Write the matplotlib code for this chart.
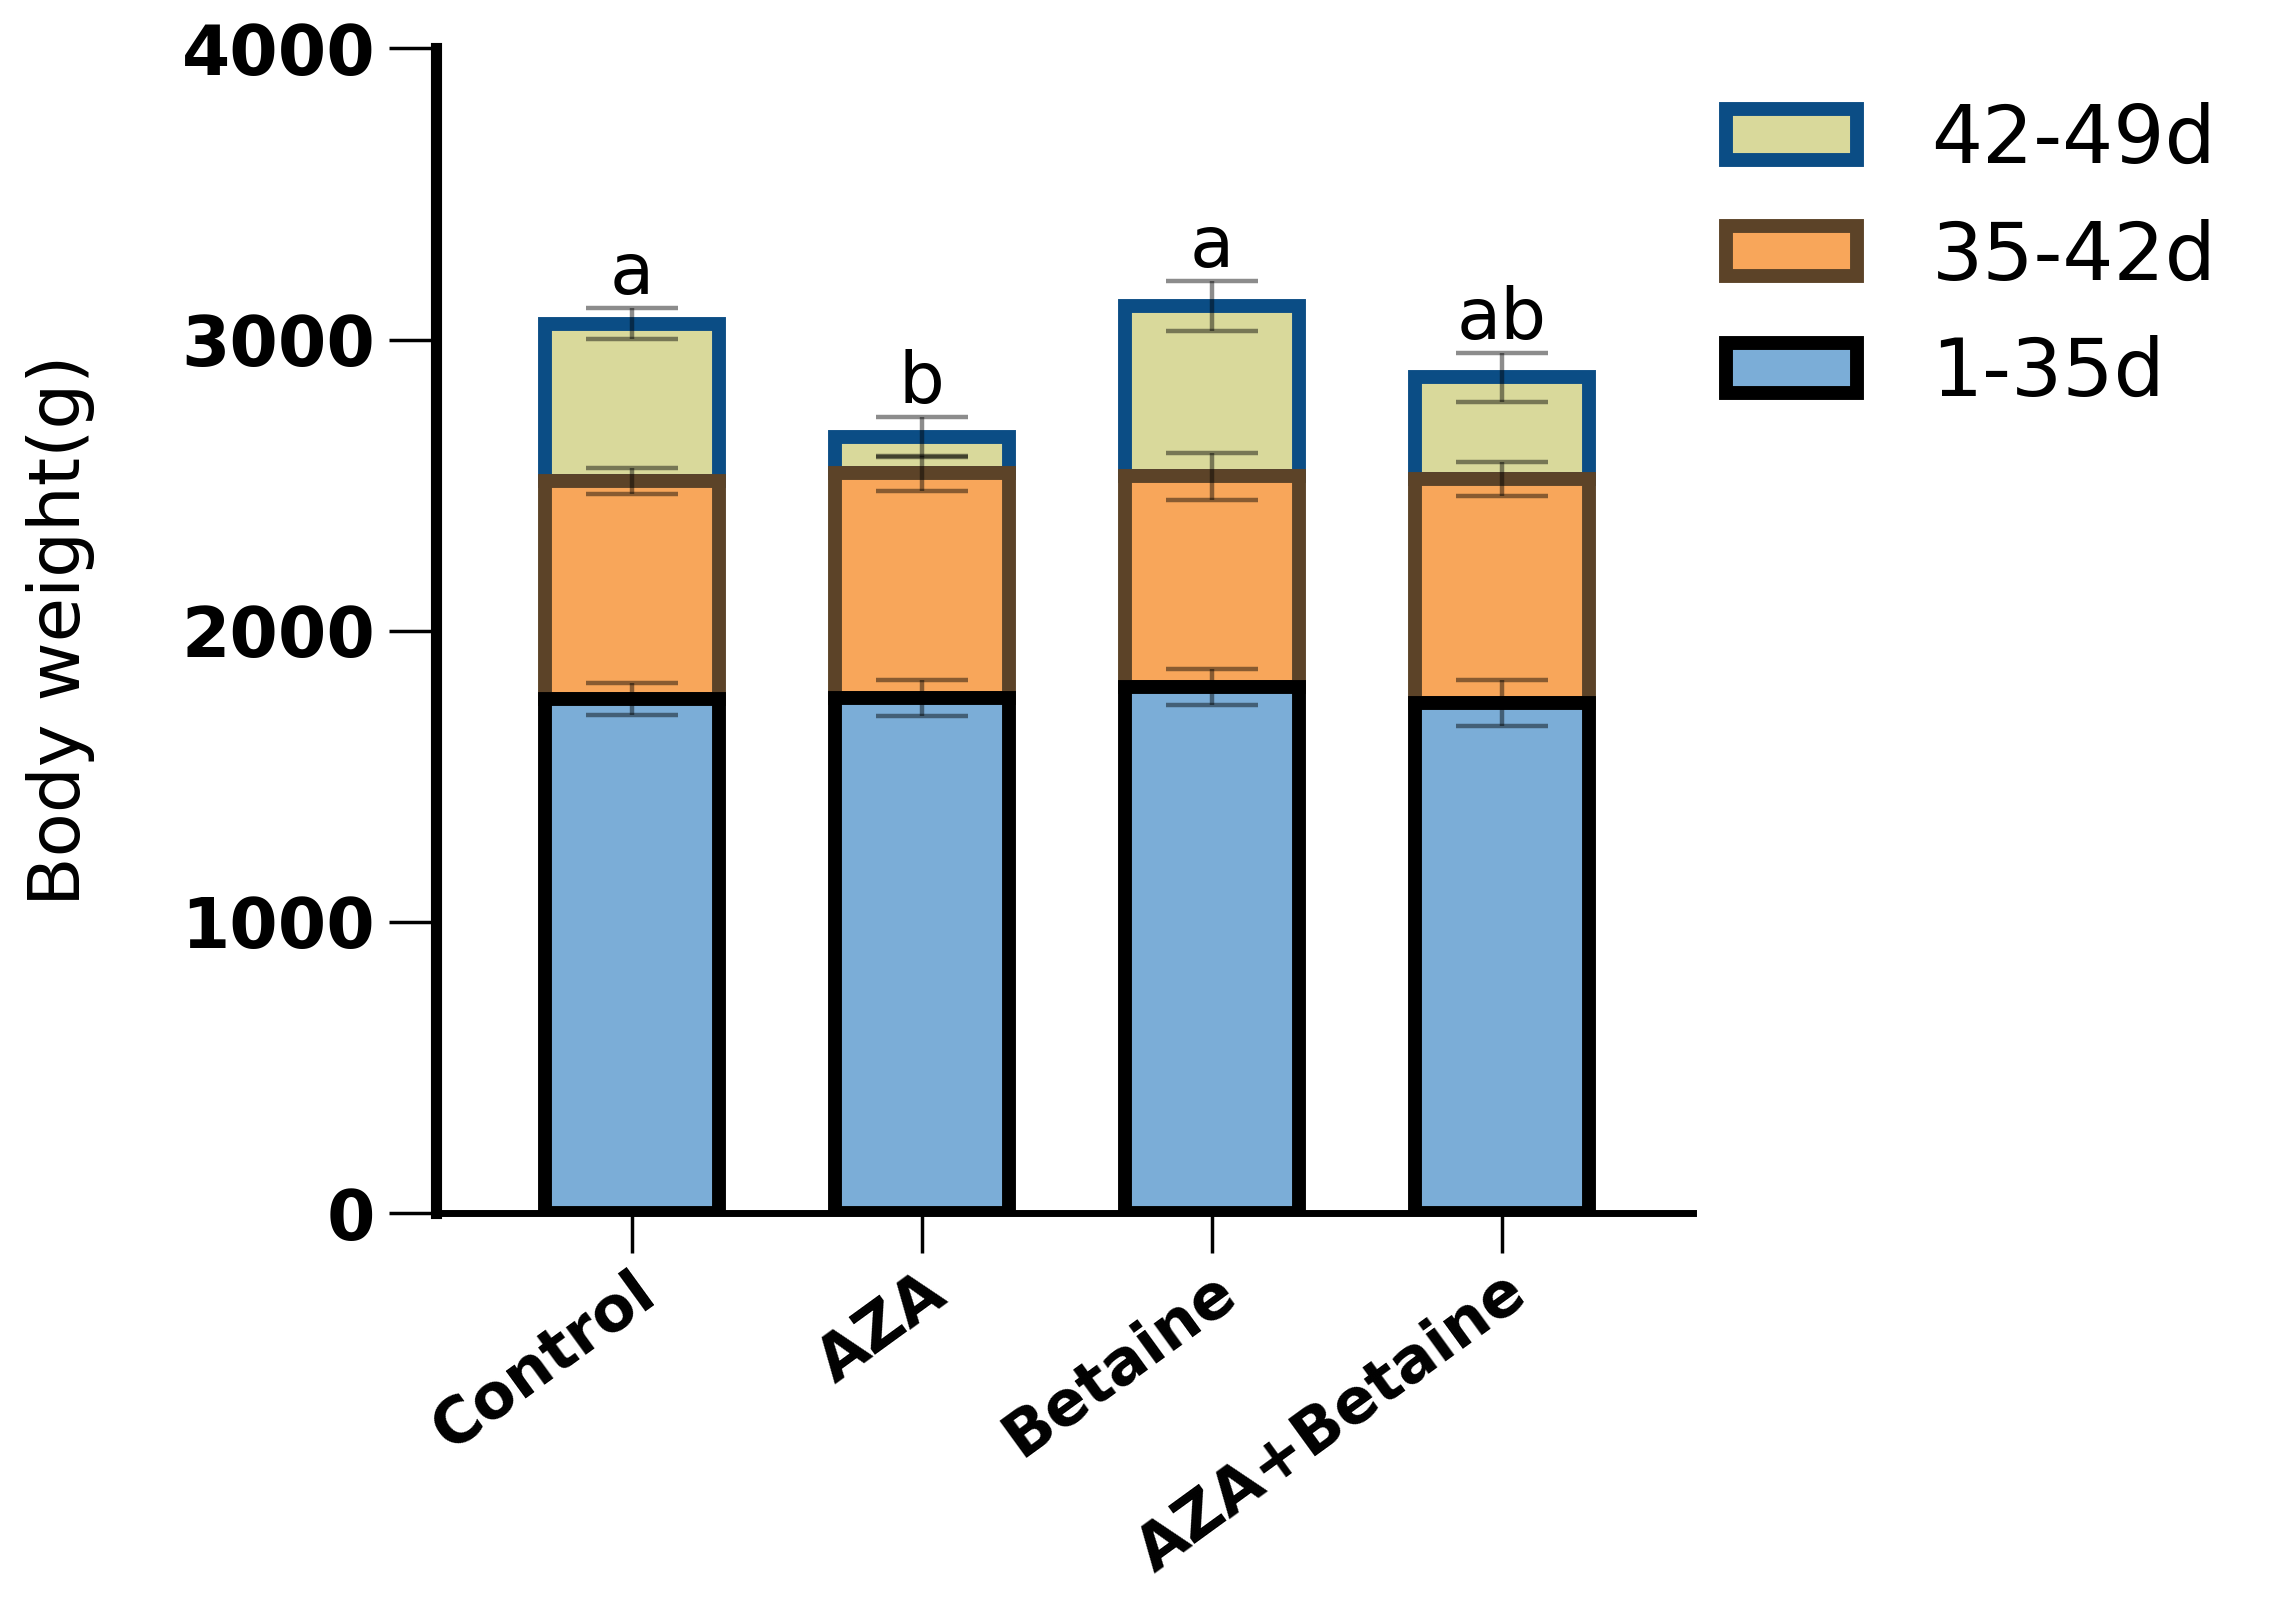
import numpy as np
import matplotlib.pyplot as plt

# data
groups = ['Control', 'AZA', 'Betaine', 'AZA+Betaine']
wt_1_35 = [1765, 1770, 1808, 1752]
wt_35_42 = [750, 770, 722, 770]
wt_42_49 = [540, 125, 585, 348]
err_1_35 = [55, 62, 62, 80]
err_35_42 = [45, 60, 80, 58]
err_42_49 = [53, 68, 85, 83]
letters = ['a', 'b', 'a', 'ab']
series_names = ['1-35d', '35-42d', '42-49d']

plt.rcParams['font.family'] = ['DejaVu Sans']

fig = plt.figure(figsize=(22.73, 16.11), dpi=100)
ax = fig.add_axes([0.192, 0.247, 0.553, 0.723])

x = np.arange(len(groups))
w = 0.6
fills = ['#7badd7', '#f8a65a', '#d9d99b']
edges = ['#000000', '#5c4328', '#0b4d85']
segs = [wt_1_35, wt_35_42, wt_42_49]
errs = [err_1_35, err_35_42, err_42_49]

bottom = np.zeros(len(groups))
handles = []
for i, (seg, err, fc, ec, name) in enumerate(zip(segs, errs, fills, edges, series_names)):
    # lower segments sit on top so their outline covers the joint
    b = ax.bar(x, seg, w, bottom=bottom, color=fc, edgecolor=ec,
               linewidth=10, label=name, zorder=5 - i)
    handles.append(b)
    top = bottom + np.array(seg)
    ax.errorbar(x, top, yerr=err, fmt='none', ecolor='black', alpha=0.45,
                elinewidth=3.2, capsize=33, capthick=3.2, zorder=6)
    bottom = top

# significance letters above each stack
for xi, t, e, lab in zip(x, bottom, err_42_49, letters):
    ax.annotate(lab, (xi, t + e), xytext=(0, 10), textcoords='offset points',
                ha='center', va='baseline', fontsize=52)

ax.set_xlim(-0.674, 3.66)
ax.set_ylim(0, 4000)
ax.set_yticks(np.arange(0, 4001, 1000))
ax.set_xticks(x)
ax.set_xticklabels(groups, rotation=36, ha='right', va='top',
                   rotation_mode='anchor', fontsize=45, fontweight='bold')
for lab in ax.get_yticklabels():
    lab.set_fontsize(50)
    lab.set_fontweight('bold')

ax.spines['top'].set_visible(False)
ax.spines['right'].set_visible(False)
ax.spines['left'].set_linewidth(8)
ax.spines['bottom'].set_linewidth(5)
ax.tick_params(axis='y', length=34, width=2.5, pad=10)
ax.tick_params(axis='x', length=29, width=2.5, pad=6)

ax.set_ylabel('Body weight(g)', fontsize=52, labelpad=62)

# legend, top series first
fig.legend(handles[::-1], series_names[::-1], loc='upper left',
           bbox_to_anchor=(0.7594, 0.9367), frameon=False, fontsize=58,
           handlelength=1.63, handleheight=0.58, handletextpad=0.92,
           labelspacing=0.48, borderpad=0, borderaxespad=0)

fig.savefig('out.png', dpi=100)
